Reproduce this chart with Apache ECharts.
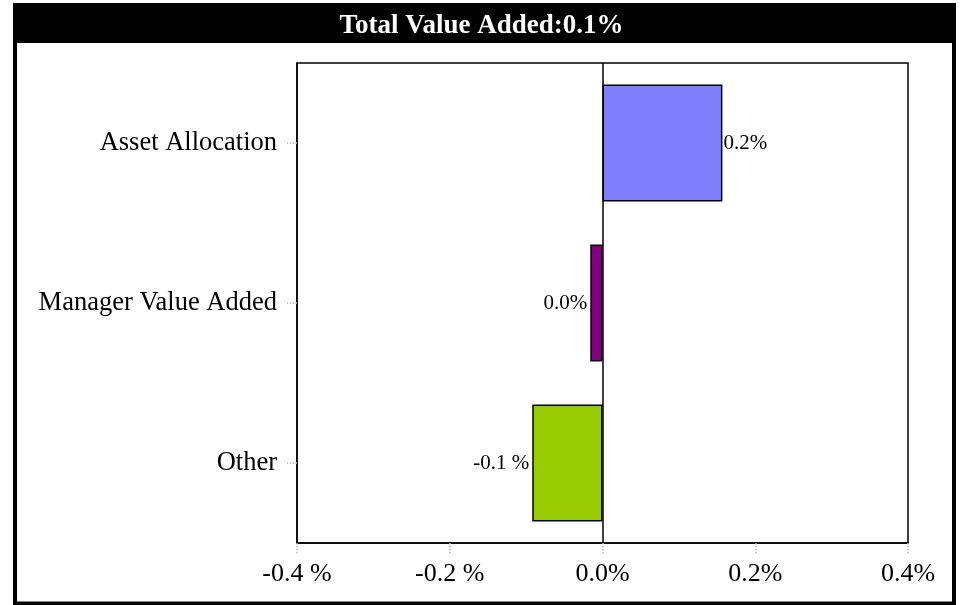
<!DOCTYPE html>
<html><head><meta charset="utf-8">
<script src="https://cdn.jsdelivr.net/npm/echarts@6/dist/echarts.min.js"></script>
<style>html,body{margin:0;padding:0;background:#fff}#c{width:963px;height:605px}</style>
</head><body><div id="c"></div>
<script>
const titleText = 'Total Value Added:0.1%';
const categories = ['Asset Allocation', 'Manager Value Added', 'Other'];
const values = [0.157, -0.016, -0.092];
const colors = ['#8080FF', '#800080', '#99CC00'];
const xTicks = [-0.4, -0.2, 0.0, 0.2, 0.4];

function fmtPct(v) {
  const r = Math.round(v * 10) / 10;
  if (r < 0) return r.toFixed(1) + ' %';
  return Math.abs(r).toFixed(1) + '%';
}
const font = '"Liberation Serif","Times New Roman",serif';
const chart = echarts.init(document.getElementById('c'), null, {renderer: 'canvas'});
chart.setOption({
  animation: false,
  backgroundColor: '#fff',
  graphic: [
    {type: 'rect', shape: {x: 15, y: 10, width: 939, height: 593.5}, style: {fill: 'none', stroke: '#000', lineWidth: 4}, z: 100},
    {type: 'rect', shape: {x: 13, y: 3, width: 943, height: 40}, style: {fill: '#000'}, z: 101}
  ],
  title: {
    text: titleText, left: 'center', top: 8, z: 200, zlevel: 0,
    textStyle: {color: '#fff', fontFamily: font, fontWeight: 'bold', fontSize: 27}
  },
  grid: {left: 297, right: 55, top: 63, bottom: 62, show: true, borderColor: '#000', borderWidth: 1.5, backgroundColor: '#fff'},
  xAxis: {
    type: 'value', min: xTicks[0], max: xTicks[xTicks.length - 1], interval: 0.2,
    axisLine: {show: true, onZero: false, lineStyle: {color: '#000', width: 1.5}},
    axisTick: {show: true, length: 12, lineStyle: {color: '#bbb', type: 'dotted', width: 1.5}},
    splitLine: {show: false},
    axisLabel: {color: '#000', fontFamily: font, fontSize: 26, margin: 18, formatter: v => fmtPct(v)}
  },
  yAxis: {
    type: 'category', data: categories, inverse: true,
    axisLine: {show: true, onZero: false, lineStyle: {color: '#000', width: 1.5}},
    axisTick: {show: true, alignWithLabel: true, length: 10, lineStyle: {color: '#bbb', type: 'dotted', width: 1.5}},
    axisLabel: {color: '#000', fontFamily: font, fontSize: 26.5, margin: 20}
  },
  series: [{
    type: 'bar', barWidth: 117,
    data: values.map((v, i) => ({
      value: v,
      itemStyle: {color: colors[i], borderColor: '#000', borderWidth: 1.5},
      label: {show: true, position: v >= 0 ? 'right' : 'left', distance: v >= 0 ? 1 : 3, formatter: () => fmtPct(v),
        color: '#000', fontFamily: font, fontSize: 21}
    })),
    markLine: {
      silent: true, symbol: 'none', label: {show: false},
      lineStyle: {color: '#000', type: 'solid', width: 1.5},
      data: [{xAxis: 0}]
    }
  }]
});
</script></body></html>
